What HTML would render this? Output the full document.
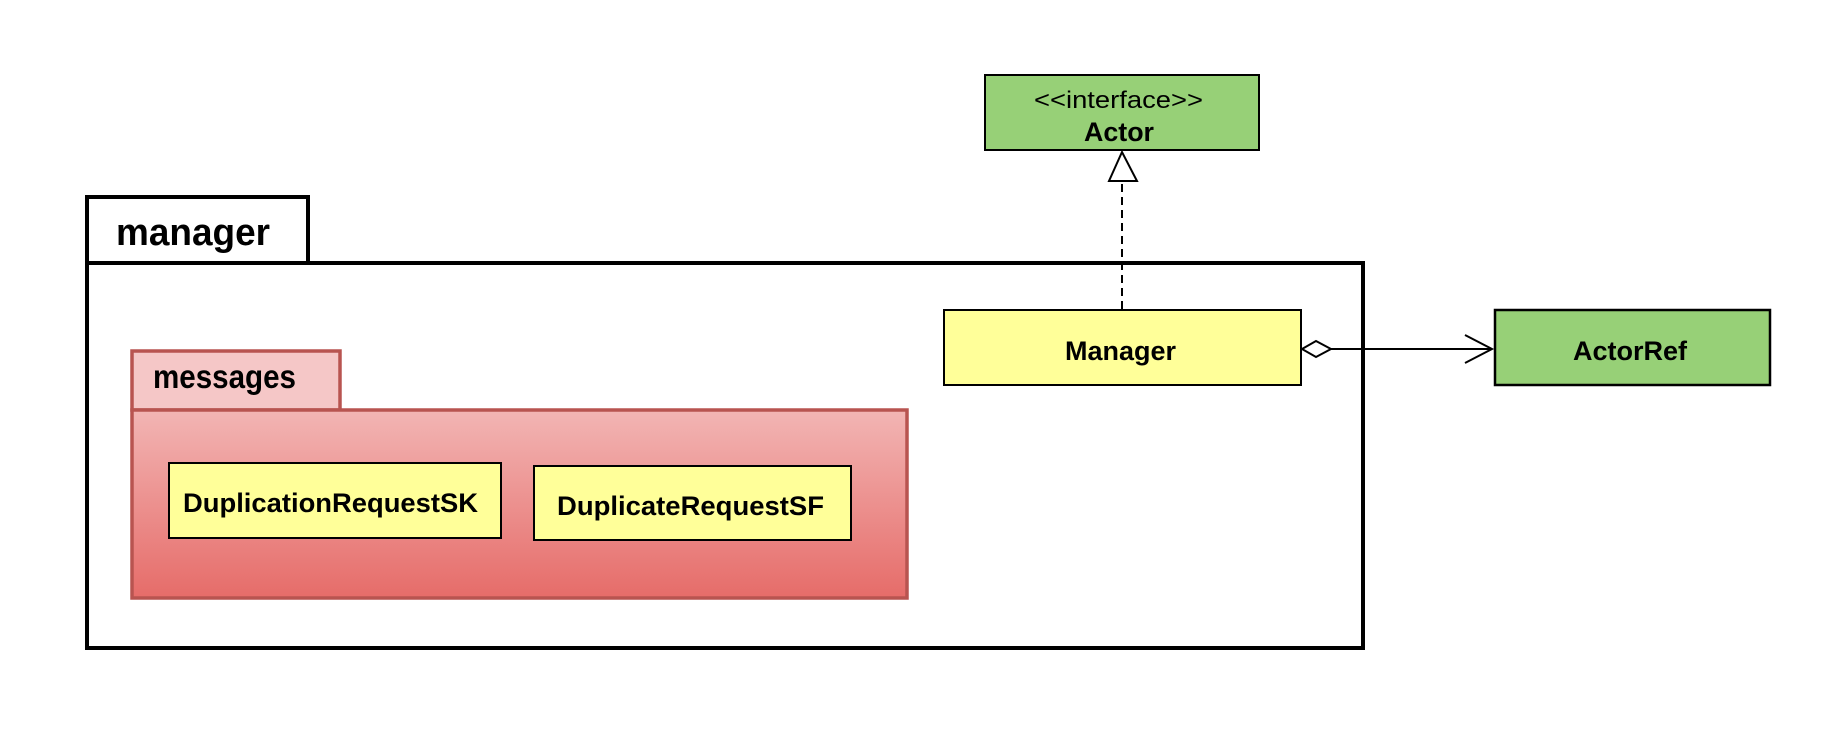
<!DOCTYPE html>
<html><head><style>html,body{margin:0;padding:0;background:#fff}svg{display:block}text{font-family:"Liberation Sans",Arial,sans-serif}</style></head>
<body>
<svg width="1832" height="746" viewBox="0 0 1832 746" xmlns="http://www.w3.org/2000/svg">
<defs>
<linearGradient id="rg" x1="0" y1="0" x2="0" y2="1">
<stop offset="0" stop-color="#f2b5b4"/><stop offset="1" stop-color="#e66c69"/>
</linearGradient>
</defs>
<rect width="1832" height="746" fill="#fff"/>
<!-- manager package -->
<rect x="87" y="197" width="221" height="66" fill="#fff" stroke="#000" stroke-width="4"/>
<rect x="87" y="263" width="1276" height="385" fill="#fff" stroke="#000" stroke-width="4"/>
<text x="116" y="245" font-size="38" font-weight="bold" textLength="154" lengthAdjust="spacingAndGlyphs">manager</text>
<!-- messages package -->
<rect x="132" y="351" width="208" height="59" fill="#f5c7c7" stroke="#b85450" stroke-width="3.5"/>
<rect x="132" y="410" width="775" height="188" fill="url(#rg)" stroke="#b85450" stroke-width="3.5"/>
<text x="153" y="388" font-size="33" font-weight="bold" textLength="143" lengthAdjust="spacingAndGlyphs">messages</text>
<rect x="169" y="463" width="332" height="75" fill="#ffff99" stroke="#000" stroke-width="2"/>
<text x="183" y="512" font-size="27" font-weight="bold" textLength="295" lengthAdjust="spacingAndGlyphs">DuplicationRequestSK</text>
<rect x="534" y="466" width="317" height="74" fill="#ffff99" stroke="#000" stroke-width="2"/>
<text x="557" y="515" font-size="27" font-weight="bold" textLength="267" lengthAdjust="spacingAndGlyphs">DuplicateRequestSF</text>
<!-- Actor -->
<rect x="985" y="75" width="274" height="75" fill="#97d077" stroke="#000" stroke-width="2"/>
<text x="1034" y="108" font-size="24" textLength="169" lengthAdjust="spacingAndGlyphs">&lt;&lt;interface&gt;&gt;</text>
<text x="1084" y="141" font-size="27" font-weight="bold" textLength="70" lengthAdjust="spacingAndGlyphs">Actor</text>
<!-- Manager -->
<rect x="944" y="310" width="357" height="75" fill="#ffff99" stroke="#000" stroke-width="2"/>
<text x="1065" y="360" font-size="27" font-weight="bold" textLength="111" lengthAdjust="spacingAndGlyphs">Manager</text>
<!-- ActorRef -->
<rect x="1495" y="310" width="275" height="75" fill="#97d077" stroke="#000" stroke-width="2.5"/>
<text x="1573" y="360" font-size="27" font-weight="bold" textLength="114" lengthAdjust="spacingAndGlyphs">ActorRef</text>
<!-- realization -->
<line x1="1122" y1="309" x2="1122" y2="181" stroke="#000" stroke-width="2" stroke-dasharray="8,5"/>
<polygon points="1122,152 1109,181 1137,181" fill="#fff" stroke="#000" stroke-width="2"/>
<!-- aggregation -->
<line x1="1331" y1="349" x2="1492" y2="349" stroke="#000" stroke-width="2"/>
<polygon points="1302,349 1316,341 1331,349 1316,357" fill="#fff" stroke="#000" stroke-width="2"/>
<polyline points="1465,335 1492,349 1465,363" fill="none" stroke="#000" stroke-width="2"/>
</svg>
</body></html>
